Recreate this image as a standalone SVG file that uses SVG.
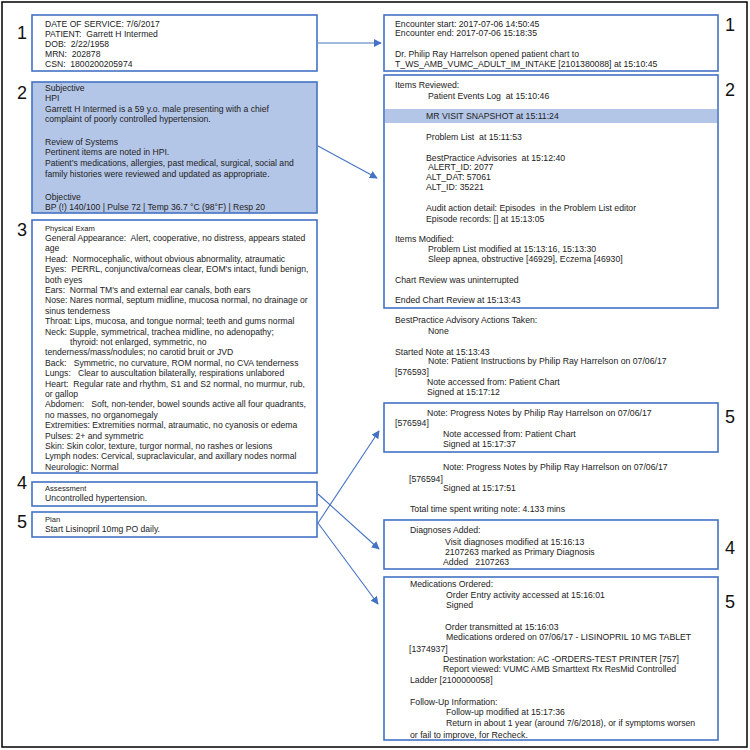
<svg xmlns="http://www.w3.org/2000/svg" width="750" height="750" viewBox="0 0 750 750">
<style>
text{font-family:"Liberation Sans",Arial,sans-serif;fill:#222;white-space:pre}
.t{font-size:8.6px}
.r{font-size:8.7px}
.h{font-size:7.6px}
.n{font-size:18px;fill:#111}
.box{fill:#fff;stroke:#4472c4;stroke-width:1.6}
.fill{fill:#b4c6e7;stroke:#4472c4;stroke-width:1.6}
.con line{stroke:#4472c4;stroke-width:1.1;marker-end:url(#ah)}
</style>
<defs>
<marker id="ah" viewBox="0 0 10 10" refX="9" refY="5" markerWidth="8" markerHeight="8" markerUnits="userSpaceOnUse" orient="auto">
<path d="M0,0 L10,5 L0,10 z" fill="#4472c4"/>
</marker>
</defs>
<rect x="0" y="0" width="750" height="750" fill="#fff"/>
<rect x="2" y="2" width="745" height="745" fill="none" stroke="#000" stroke-width="1.5"/>

<g id="labels">
<text class="n" x="17" y="39">1</text>
<text class="n" x="17" y="99">2</text>
<text class="n" x="17" y="236">3</text>
<text class="n" x="17" y="489">4</text>
<text class="n" x="17" y="528">5</text>
<text class="n" x="725" y="31">1</text>
<text class="n" x="725" y="96">2</text>
<text class="n" x="725" y="423">5</text>
<text class="n" x="725" y="554">4</text>
<text class="n" x="725" y="608">5</text>
</g>

<g id="left-header">
<rect class="box" x="32" y="15" width="285" height="56"/>
<text class="t" x="45" y="27">DATE OF SERVICE: 7/6/2017</text>
<text class="t" x="45" y="37">PATIENT:  Garrett H Intermed</text>
<text class="t" x="45" y="47">DOB:  2/22/1958</text>
<text class="t" x="45" y="57">MRN:  202878</text>
<text class="t" x="45" y="67">CSN:  1800200205974</text>
</g>

<g id="left-subjective">
<rect class="fill" x="32" y="82" width="285" height="131"/>
<text class="t" x="45" y="91">Subjective</text>
<text class="t" x="45" y="101">HPI</text>
<text class="t" x="45" y="112">Garrett H Intermed is a 59 y.o. male presenting with a chief</text>
<text class="t" x="45" y="122">complaint of poorly controlled hypertension.</text>
<text class="t" x="45" y="145">Review of Systems</text>
<text class="t" x="45" y="155">Pertinent items are noted in HPI.</text>
<text class="t" x="45" y="166">Patient’s medications, allergies, past medical, surgical, social and</text>
<text class="t" x="45" y="177">family histories were reviewed and updated as appropriate.</text>
<text class="t" x="45" y="200">Objective</text>
<text class="t" x="45" y="210">BP (!) 140/100 | Pulse 72 | Temp 36.7 °C (98°F) | Resp 20</text>
</g>

<g id="left-exam">
<rect class="box" x="32" y="220" width="285" height="253"/>
<text class="h" x="45" y="231">Physical Exam</text>
<text class="t" x="45" y="241">General Appearance:  Alert, cooperative, no distress, appears stated</text>
<text class="t" x="45" y="251.4">age</text>
<text class="t" x="45" y="261.8">Head:  Normocephalic, without obvious abnormality, atraumatic</text>
<text class="t" x="45" y="272.2">Eyes:  PERRL, conjunctiva/corneas clear, EOM's intact, fundi benign,</text>
<text class="t" x="45" y="282.6">both eyes</text>
<text class="t" x="45" y="293">Ears:  Normal TM's and external ear canals, both ears</text>
<text class="t" x="45" y="303.4">Nose: Nares normal, septum midline, mucosa normal, no drainage or</text>
<text class="t" x="45" y="313.8">sinus tenderness</text>
<text class="t" x="45" y="324.2">Throat: Lips, mucosa, and tongue normal; teeth and gums normal</text>
<text class="t" x="45" y="334.6">Neck: Supple, symmetrical, trachea midline, no adenopathy;</text>
<text class="t" x="70" y="345">thyroid: not enlarged, symmetric, no</text>
<text class="t" x="45" y="355.4">tenderness/mass/nodules; no carotid bruit or JVD</text>
<text class="t" x="45" y="365.8">Back:   Symmetric, no curvature, ROM normal, no CVA tenderness</text>
<text class="t" x="45" y="376.2">Lungs:   Clear to auscultation bilaterally, respirations unlabored</text>
<text class="t" x="45" y="386.6">Heart:  Regular rate and rhythm, S1 and S2 normal, no murmur, rub,</text>
<text class="t" x="45" y="397">or gallop</text>
<text class="t" x="45" y="407.4">Abdomen:   Soft, non-tender, bowel sounds active all four quadrants,</text>
<text class="t" x="45" y="417.8">no masses, no organomegaly</text>
<text class="t" x="45" y="428.2">Extremities: Extremities normal, atraumatic, no cyanosis or edema</text>
<text class="t" x="45" y="438.6">Pulses: 2+ and symmetric</text>
<text class="t" x="45" y="449">Skin: Skin color, texture, turgor normal, no rashes or lesions</text>
<text class="t" x="45" y="459.4">Lymph nodes: Cervical, supraclavicular, and axillary nodes normal</text>
<text class="t" x="45" y="469.8">Neurologic: Normal</text>
</g>

<g id="left-assessment">
<rect class="box" x="32" y="482" width="285" height="24"/>
<text class="h" x="45" y="491">Assessment</text>
<text class="t" x="45" y="501">Uncontrolled hypertension.</text>
</g>

<g id="left-plan">
<rect class="box" x="32" y="512" width="285" height="25"/>
<text class="h" x="45" y="522">Plan</text>
<text class="t" x="45" y="532">Start Lisinopril 10mg PO daily.</text>
</g>

<g id="right-encounter">
<rect class="box" x="384" y="15" width="334" height="56"/>
<text class="r" x="395" y="27">Encounter start: 2017-07-06 14:50:45</text>
<text class="r" x="395" y="36">Encounter end: 2017-07-06 15:18:35</text>
<text class="r" x="395" y="57">Dr. Philip Ray Harrelson opened patient chart to</text>
<text class="r" x="395" y="67">T_WS_AMB_VUMC_ADULT_IM_INTAKE [2101380088] at 15:10:45</text>
</g>

<g id="right-review">
<rect class="box" x="384" y="75" width="334" height="233"/>
<rect x="385" y="109" width="332" height="14" fill="#b4c6e7"/>
<text class="r" x="395" y="88">Items Reviewed:</text>
<text class="r" x="428" y="99">Patient Events Log  at 15:10:46</text>
<text class="r" x="426" y="119">MR VISIT SNAPSHOT at 15:11:24</text>
<text class="r" x="426" y="140">Problem List  at 15:11:53</text>
<text class="r" x="426" y="161">BestPractice Advisories  at 15:12:40</text>
<text class="r" x="426" y="170"> ALERT_ID: 2077</text>
<text class="r" x="426" y="180">ALT_DAT: 57061</text>
<text class="r" x="426" y="190">ALT_ID: 35221</text>
<text class="r" x="426" y="211">Audit action detail: Episodes  in the Problem List editor</text>
<text class="r" x="426" y="222">Episode records: [] at 15:13:05</text>
<text class="r" x="395" y="242">Items Modified:</text>
<text class="r" x="428" y="252">Problem List modified at 15:13:16, 15:13:30</text>
<text class="r" x="428" y="262">Sleep apnea, obstructive [46929], Eczema [46930]</text>
<text class="r" x="395" y="283">Chart Review was uninterrupted</text>
<text class="r" x="395" y="303">Ended Chart Review at 15:13:43</text>
</g>

<g id="right-free-1">
<text class="r" x="395" y="323">BestPractice Advisory Actions Taken:</text>
<text class="r" x="428" y="334">None</text>
<text class="r" x="395" y="355">Started Note at 15:13:43</text>
<text class="r" x="428" y="364">Note: Patient Instructions by Philip Ray Harrelson on 07/06/17</text>
<text class="r" x="395" y="375">[576593]</text>
<text class="r" x="427" y="385">Note accessed from: Patient Chart</text>
<text class="r" x="427" y="395">Signed at 15:17:12</text>
</g>

<g id="right-progress-note">
<rect class="box" x="384" y="403" width="334" height="49"/>
<text class="r" x="427" y="416">Note: Progress Notes by Philip Ray Harrelson on 07/06/17</text>
<text class="r" x="395" y="426">[576594]</text>
<text class="r" x="443" y="437">Note accessed from: Patient Chart</text>
<text class="r" x="443" y="447">Signed at 15:17:37</text>
</g>

<g id="right-free-2">
<text class="r" x="443" y="470">Note: Progress Notes by Philip Ray Harrelson on 07/06/17</text>
<text class="r" x="409" y="482">[576594]</text>
<text class="r" x="443" y="491">Signed at 15:17:51</text>
<text class="r" x="410" y="512">Total time spent writing note: 4.133 mins</text>
</g>

<g id="right-diagnoses">
<rect class="box" x="384" y="520" width="334" height="49"/>
<text class="r" x="410" y="533">Diagnoses Added:</text>
<text class="r" x="445" y="545">Visit diagnoses modified at 15:16:13</text>
<text class="r" x="445" y="555">2107263 marked as Primary Diagnosis</text>
<text class="r" x="443" y="565">Added   2107263</text>
</g>

<g id="right-medications">
<rect class="box" x="384" y="577" width="334" height="163"/>
<text class="r" x="410" y="587">Medications Ordered:</text>
<text class="r" x="446" y="598">Order Entry activity accessed at 15:16:01</text>
<text class="r" x="446" y="608">Signed</text>
<text class="r" x="445" y="630">Order transmitted at 15:16:03</text>
<text class="r" x="446" y="640">Medications ordered on 07/06/17 - LISINOPRIL 10 MG TABLET</text>
<text class="r" x="409" y="652">[1374937]</text>
<text class="r" x="443" y="662">Destination workstation: AC -ORDERS-TEST PRINTER [757]</text>
<text class="r" x="443" y="672">Report viewed: VUMC AMB Smarttext Rx ResMid Controlled</text>
<text class="r" x="410" y="683">Ladder [2100000058]</text>
<text class="r" x="410" y="705">Follow-Up Information:</text>
<text class="r" x="446" y="715">Follow-up modified at 15:17:36</text>
<text class="r" x="446" y="726">Return in about 1 year (around 7/6/2018), or if symptoms worsen</text>
<text class="r" x="410" y="738">or fail to improve, for Recheck.</text>
</g>

<g id="connectors" class="con">
<line x1="318" y1="43" x2="381" y2="43"/>
<line x1="318" y1="146" x2="377" y2="178"/>
<line x1="318" y1="494" x2="379" y2="549"/>
<line x1="318" y1="523" x2="379" y2="431"/>
<line x1="318" y1="523" x2="378" y2="604"/>
</g>
</svg>
